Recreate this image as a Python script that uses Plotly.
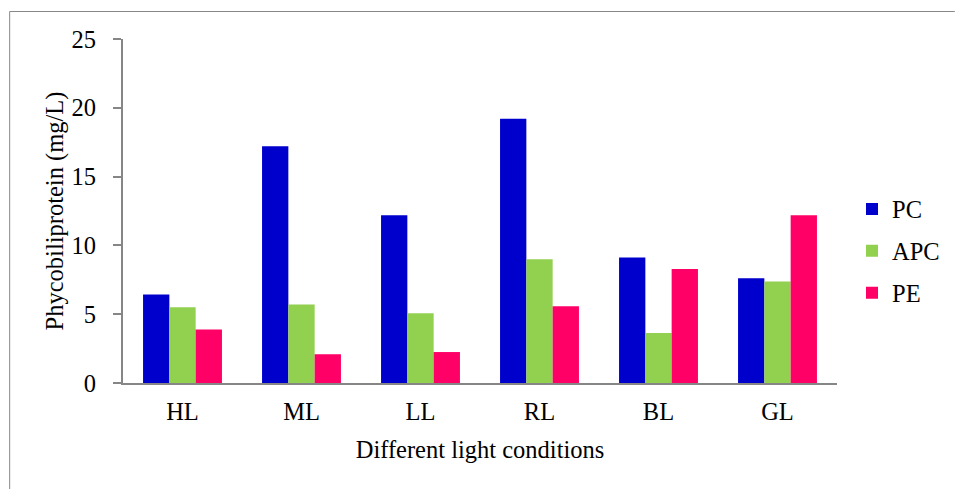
import plotly.graph_objects as go

categories = ["HL", "ML", "LL", "RL", "BL", "GL"]
pc = [6.43, 17.2, 12.2, 19.2, 9.12, 7.61]
apc = [5.5, 5.7, 5.07, 9.0, 3.64, 7.37]
pe = [3.88, 2.09, 2.25, 5.58, 8.29, 12.2]
series_names = ["PC", "APC", "PE"]
colors = ["#0000CC", "#92D050", "#FF0066"]

W, H = 956, 489
ML, MR, MT, MB = 123, 118, 39, 106
FONT = "Liberation Serif, serif"
FS = 24.5

fig = go.Figure()
for name, vals, col in zip(series_names, [pc, apc, pe], colors):
    fig.add_trace(go.Bar(x=categories, y=vals, name=name, marker_color=col,
                         marker_line_width=0, legendgroup=name))

pw = W - ML - MR
ph = H - MT - MB
def px_to_paper_x(px):
    return (px - ML) / pw
def px_to_paper_y(py):
    return (H - MB - py) / ph

# outer frame (cropped on right/bottom)
fig.add_shape(type="line", xref="paper", yref="paper",
              x0=px_to_paper_x(9.5), x1=px_to_paper_x(9.5),
              y0=px_to_paper_y(11.5), y1=px_to_paper_y(489),
              line=dict(color="#888888", width=1))
fig.add_shape(type="line", xref="paper", yref="paper",
              x0=px_to_paper_x(9.5), x1=px_to_paper_x(956),
              y0=px_to_paper_y(11.5), y1=px_to_paper_y(11.5),
              line=dict(color="#888888", width=1))

fig.update_layout(
    width=W, height=H,
    margin=dict(l=ML, r=MR, t=MT, b=MB, pad=0),
    paper_bgcolor="white", plot_bgcolor="white",
    font=dict(family=FONT, size=FS, color="black"),
    barmode="group", bargap=0.337, bargroupgap=0,
    showlegend=True,
    legend=dict(x=px_to_paper_x(852), xanchor="left",
                y=px_to_paper_y(251), yanchor="middle",
                traceorder="grouped", tracegroupgap=7,
                font=dict(family=FONT, size=FS, color="black"),
                bgcolor="rgba(0,0,0,0)"),
    xaxis=dict(showline=True, linecolor="#868686", linewidth=2,
               ticks="", showgrid=False, ticklabelstandoff=6,
               tickfont=dict(family=FONT, size=FS),
               title=dict(text="Different light conditions", standoff=16,
                          font=dict(family=FONT, size=FS)),
               automargin=False),
    yaxis=dict(range=[0, 25], dtick=5, showline=True, linecolor="#868686",
               linewidth=2, ticks="outside", ticklen=8, tickcolor="#868686",
               tickwidth=2, showgrid=False, zeroline=False, ticklabelstandoff=12,
               tickfont=dict(family=FONT, size=FS),
               title=dict(text="Phycobiliprotein (mg/L)", standoff=1,
                          font=dict(family=FONT, size=FS)),
               automargin=False),
)

fig.write_html("out.html")
